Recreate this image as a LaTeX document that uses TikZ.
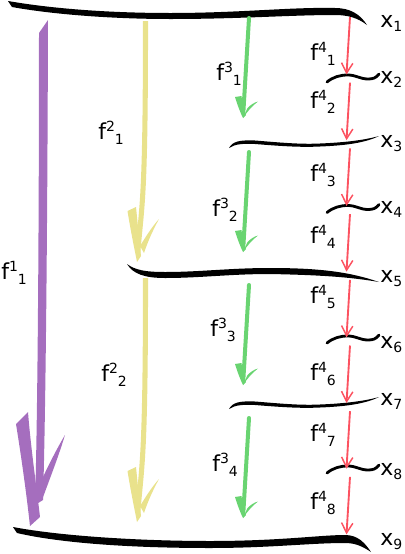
\documentclass[tikz,border=0pt]{standalone}
\usepackage{fontspec}
\setmainfont{DejaVu Sans}
\usetikzlibrary{arrows.meta}
\definecolor{plum}{RGB}{165,110,190}
\definecolor{straw}{RGB}{233,226,140}
\definecolor{leaf}{RGB}{105,212,113}
\definecolor{coral}{RGB}{252,82,96}
\newcommand{\xl}[1]{x\raisebox{-3pt}{\fontsize{10.5}{11}\selectfont #1}}
\newcommand{\fl}[2]{f\raisebox{6pt}{\fontsize{10.5}{11}\selectfont #1}\raisebox{-4pt}{\fontsize{10.5}{11}\selectfont #2}}

\begin{document}
\begin{tikzpicture}[x=0.75pt,y=-0.75pt,font=\fontsize{16.5}{20}\selectfont,
  lab/.style={anchor=base west,inner sep=0pt},
  tilde/.style={draw=black,line width=2.1pt,line cap=round},
  redarr/.style={draw=coral,line width=1.4pt,-{Straight Barb[length=7.5pt,width=8.5pt,line width=1.1pt]}},
  greenshaft/.style={draw=leaf,line width=3pt,line cap=round,shorten >=4pt},
  yellowshaft/.style={draw=straw,line width=3.8pt,shorten >=7pt}]
  \useasboundingbox (0,0) rectangle (404,554);

  % levels
  \fill (8,1) .. controls (60,10) and (120,13) .. (170,13) .. controls (240,13) and (290,7) .. (335,8) .. controls (350,8) and (360,14) .. (367,25)
    .. controls (358,18) and (348,15) .. (335,15) .. controls (290,15) and (240,19) .. (170,19) .. controls (110,19) and (50,14) .. (12,7) -- cycle;
  \fill (127,264) .. controls (135,270) and (145,272) .. (165,272) .. controls (200,272) and (230,268) .. (270,268) .. controls (320,268) and (350,272) .. (379,282)
    .. controls (350,277) and (320,275) .. (270,274) .. controls (230,274) and (200,278) .. (165,278) .. controls (145,278) and (133,274) .. (127,264) -- cycle;
  \fill (13,527) .. controls (60,536) and (140,541) .. (210,541) .. controls (280,541) and (320,535) .. (345,535) .. controls (358,535) and (365,543) .. (371,552)
    .. controls (362,546) and (355,543) .. (345,543) .. controls (310,543) and (270,548) .. (210,548) .. controls (130,548) and (60,543) .. (17,533) -- cycle;
  \foreach \s in {0,261}
    \fill[shift={(0,\s)}] (229,148) .. controls (233,141) and (240,140) .. (255,140.5) .. controls (280,142.5) and (300,144.5) .. (320,143.5) .. controls (345,142.5) and (365,140) .. (379,136)
      .. controls (365,143) and (345,145.5) .. (320,146.5) .. controls (300,147.5) and (280,146) .. (255,144) .. controls (242,143.5) and (235,144) .. (229,148) -- cycle;
  \foreach \s in {0,130.5,261,391}
    \draw[tilde,shift={(0,\s)}] (327,82) .. controls (333,77) and (340,75) .. (348,75) .. controls (356,75) and (360,79) .. (368,79) .. controls (373,79) and (376,78) .. (379,74);

  % level labels
  \foreach \k/\b in {1/27,2/83,3/147,4/213,5/282,6/348,7/405,8/475,9/545}
    \node[lab] (x\k) at (380,\b) {\xl{\k}};

  % f^1
  \coordinate (pa) at (43.5,26);
  \coordinate (pb) at (30,526);
  \fill[plum] (39,33) -- (48,20) .. controls (47.5,200) and (46,400) .. (43,500) -- (35,505) .. controls (38,400) and (39,200) .. (39,33) -- cycle;
  \fill[plum] (16,424) -- (28,412) .. controls (31,450) and (37,490) .. (40,517) -- (pb) .. controls (26,490) and (21,455) .. (16,424) -- cycle;
  \fill[plum] (65,435) .. controls (56,450) and (46,470) .. (36,492) -- (42,500) .. controls (50,478) and (58,458) .. (65,435) -- cycle;
  \node[lab] (f11) at (1,279) {\fl{1}{1}};

  % f^2
  \foreach \k/\ytop/\ytip in {1/21/262,2/278/522}{
    \coordinate (ya\k) at (145.5,\ytop);
    \coordinate (yb\k) at (137,\ytip);
    \draw[yellowshaft] (ya\k) .. controls +(0,180) and +(5,-60) .. (yb\k);
    \fill[straw,shift={(yb\k)}] (-9.5,-51) -- (-1,-55) .. controls (1,-35) and (3,-15) .. (4,-6) -- (0,0) .. controls (-3,-15) and (-7,-35) .. (-9.5,-51) -- cycle;
    \fill[straw,shift={(yb\k)}] (22,-43) .. controls (14,-34) and (8,-24) .. (3,-16) -- (7,-9) .. controls (11,-21) and (16,-32) .. (22,-43) -- cycle;
  }
  \node[lab] (f21) at (98,139) {\fl{2}{1}};
  \node[lab] (f22) at (101,381) {\fl{2}{2}};

  % f^3
  \foreach \k/\ytop in {1/18,2/152,3/285,4/418}{
    \coordinate (ga\k) at (249,\ytop);
    \coordinate (gb\k) at (243,{\ytop+100});
    \draw[greenshaft] (ga\k) -- (gb\k);
    \fill[leaf,shift={(gb\k)}] (-8,-21) -- (-1.5,-22) .. controls (-0.5,-14) and (1,-7) .. (3,-3) -- (0,0) .. controls (-3,-6) and (-5.5,-13) .. (-8,-21) -- cycle;
    \fill[leaf,shift={(gb\k)}] (15,-16.5) .. controls (9,-12) and (4,-6) .. (0,0) -- (4.5,-10) .. controls (7.5,-13) and (11,-15.5) .. (15,-16.5) -- cycle;
  }
  \foreach \k/\x/\b in {1/216/80,2/212/216,3/210/336,4/212/471}
    \node[lab] (f3\k) at (\x,\b) {\fl{3}{\k}};

  % f^4
  \foreach \k in {1,...,8}{
    \coordinate (ra\k) at (350,{17+65.7*(\k-1)});
    \coordinate (rb\k) at (346.5,{74.5+65.7*(\k-1)});
    \draw[redarr] (ra\k) -- (rb\k);
  }
  \foreach \k/\b in {1/60,2/108,3/181,4/243,5/303,6/380,7/441,8/509}
    \node[lab] (f4\k) at (310,\b) {\fl{4}{\k}};
\end{tikzpicture}
\end{document}
